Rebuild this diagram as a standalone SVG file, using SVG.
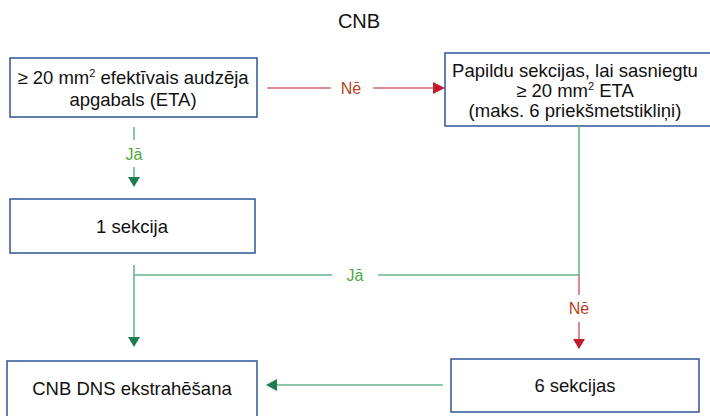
<svg xmlns="http://www.w3.org/2000/svg" width="710" height="416" viewBox="0 0 710 416">
<defs>
<style>
.box{fill:#fff;stroke:#2f5496;stroke-width:1.5}
.t{font-family:"Liberation Sans",Arial,sans-serif;font-size:18.5px;fill:#111;text-anchor:middle}
.title{font-family:"Liberation Sans",Arial,sans-serif;font-size:20px;fill:#111;text-anchor:middle}
.lbl{font-family:"Liberation Sans",Arial,sans-serif;font-size:16px;text-anchor:middle}
.yes{fill:#4caa3c}
.no{fill:#b5441a}
.gl{stroke:#6ab58e;stroke-width:1.6;fill:none}
.rl{stroke:#d66b7a;stroke-width:1.6;fill:none}
.ga{fill:#1e7d4f}
.ra{fill:#c01a2c}
</style>
</defs>
<rect width="710" height="416" fill="#fff"/>
<text class="title" x="359" y="28">CNB</text>

<g id="node-eta">
<rect class="box" x="10" y="58" width="247" height="59"/>
<text class="t" x="133" y="84">≥ 20 mm<tspan font-size="11" dy="-7">2</tspan><tspan dy="7"> efektīvais audzēja</tspan></text>
<text class="t" x="133" y="106">apgabals (ETA)</text>
</g>

<g id="node-papildu">
<rect class="box" x="445" y="53" width="268" height="73"/>
<text class="t" x="575" y="77">Papildu sekcijas, lai sasniegtu</text>
<text class="t" x="575" y="97">≥ 20 mm<tspan font-size="11" dy="-7">2</tspan><tspan dy="7"> ETA</tspan></text>
<text class="t" x="575" y="117">(maks. 6 priekšmetstikliņi)</text>
</g>

<g id="node-1sekcija">
<rect class="box" x="10" y="199" width="245" height="54"/>
<text class="t" x="132" y="233">1 sekcija</text>
</g>

<g id="node-dns">
<rect class="box" x="7" y="361" width="250" height="60"/>
<text class="t" x="132" y="395">CNB DNS ekstrahēšana</text>
</g>

<g id="node-6sekcijas">
<rect class="box" x="451" y="359" width="248" height="53"/>
<text class="t" x="575" y="392">6 sekcijas</text>
</g>

<g id="connectors">
<!-- ETA -> Papildu (Nē) -->
<path class="rl" d="M267 88H331M373 88H434"/>
<path class="ra" d="M433 82L445 88L433 94Z"/>
<text class="lbl no" x="351" y="94">Nē</text>

<!-- ETA -> 1 sekcija (Jā) -->
<path class="gl" d="M134 127V140M134 167V178"/>
<path class="ga" d="M128 177H140L134 187Z"/>
<text class="lbl yes" x="134" y="160">Jā</text>

<!-- 1 sekcija -> DNS -->
<path class="gl" d="M134 265V338"/>
<path class="ga" d="M128 337H140L134 347Z"/>

<!-- Papildu -> DNS (Jā) -->
<path class="gl" d="M579 126V275H378M332 275H134"/>
<text class="lbl yes" x="355" y="281">Jā</text>

<!-- Papildu -> 6 sekcijas (Nē) -->
<path class="rl" d="M579 275V295M579 322V340"/>
<path class="ra" d="M573 339H585L579 349Z"/>
<text class="lbl no" x="579" y="314">Nē</text>

<!-- 6 sekcijas -> DNS -->
<path class="gl" d="M443 385H276"/>
<path class="ga" d="M277 379V391L266 385Z"/>
</g>
</svg>
